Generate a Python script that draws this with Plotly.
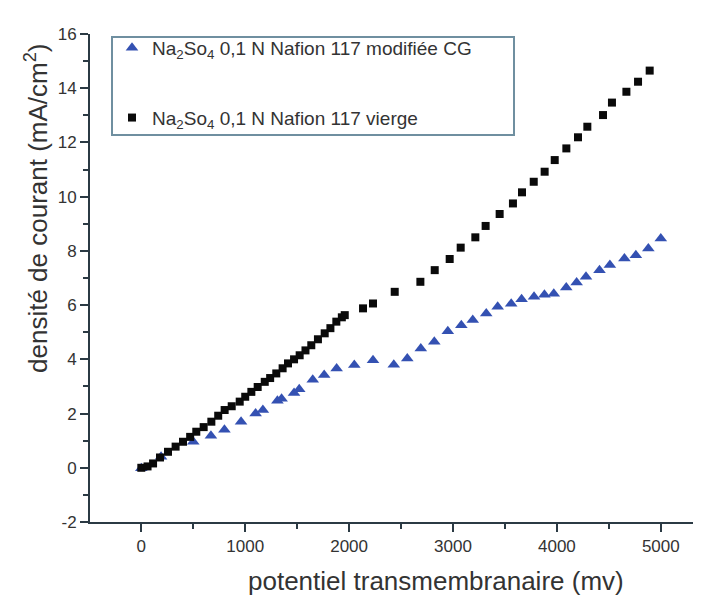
import plotly.graph_objects as go

# ---- data ----
modified_x = [0, 190, 500, 670, 800, 960, 1100, 1170, 1310, 1350, 1470, 1520, 1650, 1760, 1880,
              2050, 2230, 2430, 2560, 2690, 2820, 2950, 3080, 3190, 3320, 3430, 3560, 3660, 3780,
              3880, 3970, 4090, 4190, 4280, 4410, 4510, 4650, 4760, 4880, 5000]
modified_y = [-0.02, 0.41, 0.96, 1.18, 1.40, 1.70, 2.00, 2.13, 2.47, 2.55, 2.76, 2.90, 3.25, 3.42, 3.66,
              3.79, 3.97, 3.80, 4.03, 4.40, 4.65, 5.04, 5.26, 5.45, 5.69, 5.94, 6.05, 6.22, 6.31,
              6.38, 6.42, 6.65, 6.83, 7.05, 7.29, 7.48, 7.72, 7.84, 8.09, 8.46]

virgin_x = [0, 60, 113, 180, 257, 330, 401, 470, 529, 600, 674, 740, 802, 870, 947, 1000, 1059,
            1120, 1188, 1240, 1299, 1360, 1412, 1470, 1524, 1580, 1636, 1700, 1765, 1820, 1877,
            1930, 1958, 2134, 2230, 2439, 2686, 2824, 2968, 3074, 3215, 3314, 3449, 3577, 3664,
            3777, 3882, 3979, 4091, 4203, 4293, 4444, 4530, 4669, 4781, 4893]
virgin_y = [0.00, 0.05, 0.16, 0.38, 0.59, 0.78, 0.96, 1.14, 1.33, 1.50, 1.70, 1.92, 2.13, 2.27, 2.44,
            2.62, 2.80, 2.98, 3.17, 3.31, 3.48, 3.67, 3.85, 4.00, 4.15, 4.33, 4.52, 4.74, 4.96, 5.15,
            5.39, 5.55, 5.63, 5.88, 6.06, 6.49, 6.86, 7.29, 7.70, 8.12, 8.50, 8.92, 9.36, 9.75,
            10.16, 10.55, 10.92, 11.35, 11.78, 12.19, 12.58, 13.01, 13.47, 13.87, 14.24, 14.65]

names = ["Na<sub>2</sub>So<sub>4</sub> 0,1 N Nafion 117 modifiée CG",
         "Na<sub>2</sub>So<sub>4</sub> 0,1 N Nafion 117 vierge"]
x_ticks = [0, 1000, 2000, 3000, 4000, 5000]
y_ticks = [-2, 0, 2, 4, 6, 8, 10, 12, 14, 16]

# ---- figure ----
W, H = 701, 602
L, R, T, B = 82, 0, 26, 88
pw, ph = W - L - R, H - T - B


def px(xp):
    return (xp - L) / pw


def py(yp):
    return (H - B - yp) / ph


axis_col = "#2b3a44"
font_family = "Liberation Sans, Arial, sans-serif"

fig = go.Figure()
fig.add_trace(go.Scatter(x=modified_x, y=modified_y, mode="markers", name=names[0],
                         legendgroup="a",
                         marker=dict(symbol="triangle-up", size=11, color="#3451b2")))
fig.add_trace(go.Scatter(x=virgin_x, y=virgin_y, mode="markers", name=names[1],
                         legendgroup="b",
                         marker=dict(symbol="square", size=8, color="#0a0a0a")))

axis_common = dict(showline=True, linecolor=axis_col, linewidth=2, ticks="outside",
                   tickcolor=axis_col, tickwidth=2, ticklen=8, showgrid=False, zeroline=False,
                   tickfont=dict(family=font_family, size=17, color="#333333"),
                   minor=dict(ticks="outside", ticklen=5, tickwidth=2, tickcolor=axis_col, showgrid=False))

fig.update_xaxes(range=[-494, 5464], tickvals=x_ticks, ticktext=[str(v) for v in x_ticks],
                 minor_dtick=500, minor_tick0=-500, **axis_common)
fig.update_yaxes(range=[-2, 16], tickvals=y_ticks, ticktext=[str(v) for v in y_ticks],
                 minor_dtick=1, minor_tick0=-2, **axis_common)

fig.add_shape(type="rect", xref="paper", yref="paper",
              x0=px(104), x1=px(506), y0=py(127), y1=py(29),
              line=dict(color="#6f8fa0", width=2), fillcolor="rgba(0,0,0,0)")

fig.add_annotation(text="densité de courant (mA/cm<sup>2</sup>)", xref="paper", yref="paper",
                   x=px(28), y=py(200), textangle=-90, showarrow=False,
                   xanchor="center", yanchor="middle",
                   font=dict(family=font_family, size=26, color="#333333"))
fig.add_annotation(text="potentiel transmembranaire (mv)", xref="paper", yref="paper",
                   x=px(428), y=py(573), showarrow=False,
                   xanchor="center", yanchor="middle",
                   font=dict(family=font_family, size=26, color="#333333"))

fig.update_layout(
    width=W, height=H,
    margin=dict(l=L, r=R, t=T, b=B),
    paper_bgcolor="white", plot_bgcolor="white",
    showlegend=True,
    legend=dict(x=px(104), y=py(21), xanchor="left", yanchor="top",
                bgcolor="rgba(0,0,0,0)", borderwidth=0, tracegroupgap=42,
                font=dict(family=font_family, size=19, color="#333333")),
)

fig.write_html("out.html")
